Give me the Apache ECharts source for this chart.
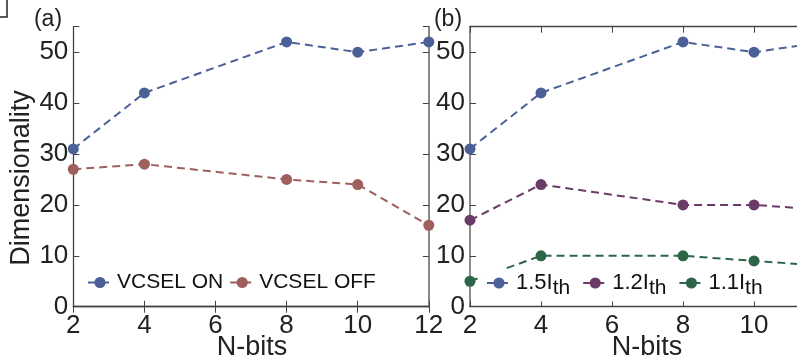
<!DOCTYPE html>
<html>
<head>
<meta charset="utf-8">
<script src="https://cdn.jsdelivr.net/npm/echarts@6/dist/echarts.min.js"></script>
<style>html,body{margin:0;padding:0;background:#fff}#c{width:797px;height:356px}</style>
</head>
<body>
<div id="c"></div>
<script>
// Data
const nBits = [2, 4, 8, 10, 12];
const vcselOn = [31, 42, 52, 50, 52];
const vcselOff = [27, 28, 25, 24, 16];
const i15 = [31, 42, 52, 50, 52];
const i12 = [17, 24, 20, 20, 19];
const i11 = [5, 10, 10, 9, 8];
const xTicks = [2, 4, 6, 8, 10, 12];
const yTicks = [0, 10, 20, 30, 40, 50];

const FONT = '"Liberation Sans", Arial, sans-serif';
const C_BLUE = '#4b6096', C_RED = '#9e5f5d', C_PURPLE = '#6b3b67', C_GREEN = '#2c6548';
const pair = (xs, ys) => xs.map((x, i) => [x, ys[i]]);

function xAx(grid, top) {
  return {
    type: 'value', gridIndex: grid, min: 2, max: 12, interval: 2,
    position: top ? 'top' : 'bottom',
    axisLine: {show: true, lineStyle: {color: '#444', width: 1.3}},
    axisTick: {show: true, inside: true, length: 6, lineStyle: {color: '#444'}},
    axisLabel: {show: !top, fontFamily: FONT, fontSize: 26, color: '#222', margin: 6,
      formatter: v => (xTicks.indexOf(v) >= 0 ? String(v) : '')},
    splitLine: {show: false}
  };
}
function yAx(grid, right, color, width) {
  return {
    type: 'value', gridIndex: grid, min: 0, max: 55, interval: 10,
    position: right ? 'right' : 'left',
    axisLine: {show: true, lineStyle: {color: color || '#444', width: width || 1.3}},
    axisTick: {show: true, inside: true, length: 6, lineStyle: {color: '#444'}},
    axisLabel: {show: !right, fontFamily: FONT, fontSize: 26, color: '#222', margin: 5,
      formatter: v => (yTicks.indexOf(v) >= 0 ? String(v) : '')},
    splitLine: {show: false}
  };
}
function ser(name, data, color, xi, yi) {
  return {
    name, type: 'line', xAxisIndex: xi, yAxisIndex: yi, data,
    symbol: 'circle', symbolSize: 11, clip: false,
    lineStyle: {color, width: 2, type: [8, 5]},
    itemStyle: {color},
    z: 3
  };
}

const chart = echarts.init(document.getElementById('c'), null, {renderer: 'canvas'});
chart.setOption({
  backgroundColor: '#fff',
  animation: false,
  grid: [
    {left: 73.3, top: 26.7, width: 355.5, height: 280, outerBoundsMode: 'none', containLabel: false},
    {left: 470, top: 26.7, width: 355, height: 280, outerBoundsMode: 'none', containLabel: false}
  ],
  xAxis: [xAx(0, false), xAx(0, true), xAx(1, false), xAx(1, true)],
  yAxis: [yAx(0, false), yAx(0, true, '#888', 2), yAx(1, false, '#666', 1.5)],
  legend: [
    {
      data: ['VCSEL ON', 'VCSEL OFF'], left: 85, top: 270, orient: 'horizontal',
      itemWidth: 24, itemHeight: 14, itemGap: 6, padding: [2, 2],
      textStyle: {fontFamily: FONT, fontSize: 21, color: '#111'}
    },
    {
      data: ['1.5Ith', '1.2Ith', '1.1Ith'], left: 482, top: 269, orient: 'horizontal',
      itemWidth: 24, itemHeight: 14, itemGap: 12, padding: [3, 4],
      backgroundColor: '#fff',
      formatter: n => '{a|' + n.replace('Ith', 'I') + '}{s|th}',
      textStyle: {fontFamily: FONT, fontSize: 20, color: '#111',
        rich: {a: {fontFamily: FONT, fontSize: 22, color: '#111'},
               s: {fontFamily: FONT, fontSize: 21, color: '#111', padding: [10, 0, 0, 0]}}}
    }
  ],
  series: [
    ser('VCSEL ON', pair(nBits, vcselOn), C_BLUE, 0, 0),
    ser('VCSEL OFF', pair(nBits, vcselOff), C_RED, 0, 0),
    ser('1.5Ith', pair(nBits, i15), C_BLUE, 2, 2),
    ser('1.2Ith', pair(nBits, i12), C_PURPLE, 2, 2),
    ser('1.1Ith', pair(nBits, i11), C_GREEN, 2, 2)
  ],
  graphic: [
    {type: 'polyline', shape: {points: [[0, 17], [7, 17], [7, 0]]}, style: {stroke: '#222', lineWidth: 1.5, fill: null}},
    {type: 'text', x: 48, y: 20, style: {text: '(a)', font: '23px ' + FONT, fill: '#222', textAlign: 'center', textVerticalAlign: 'middle'}},
    {type: 'text', x: 448, y: 20, style: {text: '(b)', font: '23px ' + FONT, fill: '#222', textAlign: 'center', textVerticalAlign: 'middle'}},
    {type: 'text', x: 252, y: 348, style: {text: 'N-bits', font: '27px ' + FONT, fill: '#222', textAlign: 'center', textVerticalAlign: 'middle'}},
    {type: 'text', x: 647, y: 348, style: {text: 'N-bits', font: '27px ' + FONT, fill: '#222', textAlign: 'center', textVerticalAlign: 'middle'}},
    {type: 'text', x: 22, y: 178, rotation: Math.PI / 2, style: {text: 'Dimensionality', font: '27px ' + FONT, fill: '#222', textAlign: 'center', textVerticalAlign: 'middle'}}
  ]
});
</script>
</body>
</html>
